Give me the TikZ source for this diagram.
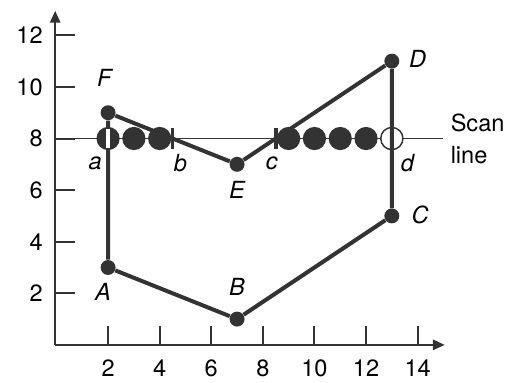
\documentclass[tikz,border=0pt]{standalone}
\usepackage{fontspec}
\setmainfont{TeX Gyre Heros}
\usetikzlibrary{arrows.meta, positioning}

\begin{document}
\begin{tikzpicture}[
    x=0.5cm, y=0.5cm,
    axis/.style={line width=1.1pt, draw=black!80},
    edge/.style={line width=2.2pt, draw=black!80},
    scanln/.style={line width=0.8pt, draw=black!80},
    vert/.style={circle, fill=black!80, inner sep=0pt, minimum size=0.29cm},
    pix/.style={circle, fill=black!80, inner sep=0pt, minimum size=0.45cm},
    openpix/.style={circle, draw=black!80, fill=white, line width=0.8pt, inner sep=0pt, minimum size=0.43cm},
    strip/.style={rectangle, draw=black!80, fill=white, line width=0.5pt, inner sep=0pt, minimum width=0.09cm, minimum height=0.4cm},
    crossmk/.style={rectangle, fill=black!80, inner sep=0pt, minimum width=0.07cm, minimum height=0.42cm},
    lbl/.style={font=\fontsize{13}{15}\selectfont\itshape, inner sep=1pt},
    num/.style={font=\fontsize{13}{17.6}\selectfont, inner sep=1pt},
    arrow/.style={-{Triangle[length=0.23cm, width=0.2cm]}}
]
\useasboundingbox (-2.19,-1.47) rectangle (17.62,13.37);

% axes
\coordinate (O) at (-0.05,0);
\coordinate (xend) at (15.05,0);
\coordinate (yend) at (-0.05,12.95);
\draw[axis, arrow] (O) -- (xend);
\draw[axis, arrow] (O) -- (yend);
\foreach \t in {2,4,...,14} {
    \draw[axis] (\t,0) -- (\t,0.75);
    \node[num] (xl\t) at (\t,-0.9) {\t};
}
\foreach \t in {2,4,...,12} {
    \draw[axis] (0,\t) -- (0.72,\t);
    \node[num, anchor=east] (yl\t) at (-0.45,\t) {\t};
}

% scan line
\coordinate (s0) at (0,8);
\coordinate (s1) at (15,8);
\draw[scanln] (s0) -- (s1);
\node[num, align=left, anchor=west] (scan) at (15.2,8) {Scan\\line};

% polygon vertices
\node[vert] (A) at (2,3) {};
\node[vert] (B) at (7,1) {};
\node[vert] (C) at (13,5) {};
\node[vert] (D) at (13,11) {};
\node[vert] (E) at (7,7) {};
\node[vert] (F) at (2,9) {};

% pixels on the scan line
\foreach \i in {2,3,4,9,10,11,12}
    \node[pix] (p\i) at (\i,8) {};
\node[openpix] (p13) at (13,8) {};

\draw[edge] (A) -- (B) -- (C) -- (D) -- (E) -- (F) -- (A);

\node[strip] (p2w) at (2,8) {};
\node[crossmk] (xb) at (4.5,8) {};
\node[crossmk] (xc) at (8.5,8) {};

% labels
\node[lbl] (lA) at (1.8,2.05) {A};
\node[lbl] (lB) at (7.0,2.25) {B};
\node[lbl] (lC) at (14.1,5.05) {C};
\node[lbl] (lD) at (14.0,11.1) {D};
\node[lbl] (lE) at (7.0,6.0) {E};
\node[lbl] (lF) at (1.85,10.35) {F};
\node[lbl] (la) at (1.5,7.05) {a};
\node[lbl] (lb) at (4.8,7.05) {b};
\node[lbl] (lc) at (8.35,7.05) {c};
\node[lbl] (ld) at (13.6,7.05) {d};
\end{tikzpicture}
\end{document}
